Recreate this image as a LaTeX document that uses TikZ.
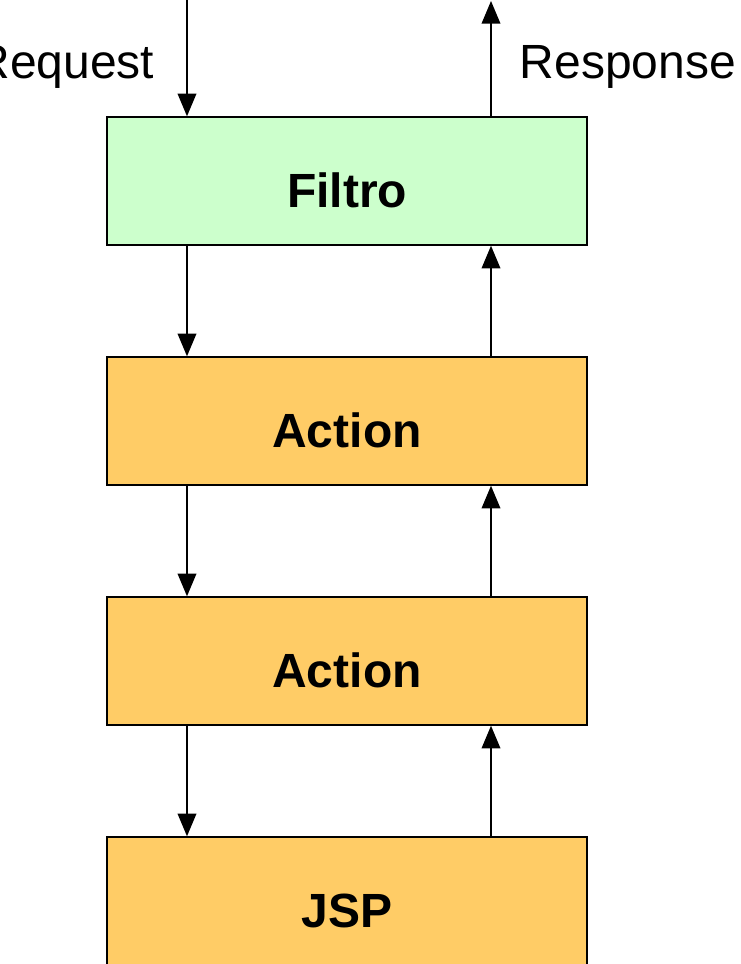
\documentclass[tikz,border=0pt]{standalone}
\usepackage{fontspec}
\setmainfont{Liberation Sans}
\usetikzlibrary{arrows.meta}
\definecolor{filtergreen}{HTML}{CCFFCC}
\definecolor{actionorange}{HTML}{FFCC66}
\begin{document}
\begin{tikzpicture}[x=0.75pt,y=-0.75pt]
      \useasboundingbox (0,0) rectangle (740,964);
      \fill[white] (0,0) rectangle (740,964);
      \begin{scope}[every node/.style={rectangle, draw, line width=1.1pt, minimum width=360pt, minimum height=96pt, inner sep=0pt, text height=39pt, text depth=0pt, font=\fontsize{36}{40}\selectfont\bfseries}]
        \node [fill=filtergreen] (filtro) at (347,181) {Filtro};
        \node [fill=actionorange] (act1) at (347,421) {Action};
        \node [fill=actionorange] (act2) at (347,661) {Action};
        \node [fill=actionorange] (jsp) at (347,901) {JSP};
      \end{scope}

      \coordinate (reqin) at (187,0);
      \coordinate (resout) at (491,1);
      \node [anchor=east, font=\fontsize{36}{40}\selectfont] (req) at (159,67) {Request};
      \node [anchor=west, font=\fontsize{36}{40}\selectfont] (res) at (515,67) {Response};

      \begin{scope}[-{Triangle[length=17pt,width=14pt]}, line width=1.1pt]
        \draw (reqin) to (filtro.north -| reqin);
        \draw (filtro.north -| resout) to (resout);
        \draw (filtro.south -| reqin) to (act1.north -| reqin);
        \draw (act1.north -| resout) to (filtro.south -| resout);
        \draw (act1.south -| reqin) to (act2.north -| reqin);
        \draw (act2.north -| resout) to (act1.south -| resout);
        \draw (act2.south -| reqin) to (jsp.north -| reqin);
        \draw (jsp.north -| resout) to (act2.south -| resout);
      \end{scope}
   \end{tikzpicture}
\end{document}
